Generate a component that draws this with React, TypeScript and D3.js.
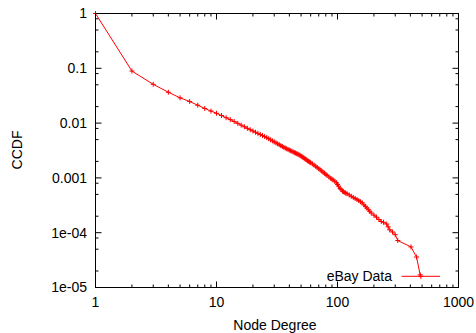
import * as d3 from 'd3'

// node degree / CCDF pairs
const degrees = [
  1, 2, 3, 4, 5, 6, 7, 8, 9, 10,
  11, 12, 13, 14, 15, 16, 17, 18, 19, 20,
  21, 22, 23, 24, 25, 26, 27, 28, 29, 30,
  31, 32, 33, 34, 35, 36, 37, 38, 39, 40,
  41, 42, 43, 44, 45, 46, 47, 48, 49, 50,
  51, 52, 53, 54, 55, 56, 57, 58, 59, 60,
  62, 64, 66, 68, 70, 72, 74, 76, 78, 80,
  82, 85, 88, 90, 92, 95, 98, 100, 102, 105,
  107, 110, 112, 115, 117, 120, 125, 130, 135, 140,
  145, 150, 155, 160, 165, 170, 175, 180, 185, 190,
  200, 210, 220, 230, 240, 255, 262, 270, 285, 300,
  315, 405, 450, 482,
]
const ccdf = [
  1, 0.089, 0.051, 0.0366, 0.0289, 0.0248, 0.0212, 0.0185, 0.0166, 0.0151,
  0.01374, 0.01256, 0.01158, 0.01069, 0.00988, 0.00918, 0.00857, 0.00803, 0.00757, 0.00718,
  0.00681, 0.00649, 0.00619, 0.00592, 0.00568, 0.00543, 0.00519, 0.00496, 0.00474, 0.00454,
  0.00436, 0.00419, 0.00404, 0.00388, 0.00375, 0.00361, 0.00351, 0.0034, 0.00331, 0.00322,
  0.00314, 0.00305, 0.00298, 0.0029, 0.00284, 0.00277, 0.00271, 0.00265, 0.00258, 0.0025,
  0.00243, 0.00236, 0.00229, 0.00222, 0.00216, 0.0021, 0.00204, 0.00199, 0.00194, 0.00189,
  0.0018, 0.00171, 0.00163, 0.00155, 0.00147, 0.0014, 0.00134, 0.00127, 0.00122, 0.00116,
  0.00111, 0.00104, 0.000984, 0.000946, 0.000916, 0.00087, 0.000813, 0.00076, 0.000708, 0.000646,
  0.000617, 0.000575, 0.00056, 0.00054, 0.000528, 0.000513, 0.000488, 0.000462, 0.000441, 0.000421,
  0.000403, 0.000385, 0.000367, 0.000351, 0.000324, 0.000302, 0.000282, 0.000263, 0.000245, 0.000229,
  0.000209, 0.000192, 0.000174, 0.00016, 0.000155, 0.000144, 0.000128, 0.000113, 0.000103, 0.000092,
  0.000072, 0.000055, 0.000036, 0.000017,
]
const xTickLabels = ['1', '10', '100', '1000']
const yTickLabels = ['1', '0.1', '0.01', '0.001', '1e-04', '1e-05']
const seriesName = 'eBay Data'

const W = 476
const H = 333
const m = { l: 95.5, r: 458.5, t: 13.5, b: 287.5 }
const FONT = "'Liberation Sans', Arial, Helvetica, sans-serif"
const RED = '#ff0000'

export default function App() {
  const x = d3.scaleLog().domain([1, 1000]).range([m.l, m.r])
  const y = d3.scaleLog().domain([1e-5, 1]).range([m.b, m.t])

  const pts: [number, number][] = degrees.map((d, i) => [x(d), y(ccdf[i])])
  const line = d3.line()(pts) || ''

  const xMajor = [1, 10, 100, 1000]
  const yMajor = [1, 0.1, 0.01, 0.001, 1e-4, 1e-5]
  const xMinor: number[] = []
  for (const dec of [1, 10, 100]) for (let k = 2; k <= 9; k++) xMinor.push(dec * k)
  const yMinor: number[] = []
  for (const dec of [1e-5, 1e-4, 1e-3, 1e-2, 1e-1]) for (const k of [2, 5, 8]) yMinor.push(dec * k)

  const cross = (cx: number, cy: number, key: string | number) => (
    <path key={key} d={`M${cx - 2.5},${cy}H${cx + 2.5}M${cx},${cy - 2.5}V${cy + 2.5}`} stroke={RED} strokeWidth={1} />
  )

  const legY = 276.3
  const legX0 = 401.7
  const legX1 = 440

  return (
    <svg width={W} height={H} style={{ position: 'absolute', left: 0, top: 0, background: '#fff' }} fontFamily={FONT}>
      <rect width={W} height={H} fill="#fff" />

      {/* ticks, mirrored on all four sides */}
      <g stroke="#000" strokeWidth={1}>
        {xMajor.map(v => (
          <g key={'xM' + v}>
            <line x1={x(v)} x2={x(v)} y1={m.b} y2={m.b - 6} />
            <line x1={x(v)} x2={x(v)} y1={m.t} y2={m.t + 6} />
          </g>
        ))}
        {xMinor.map(v => (
          <g key={'xm' + v}>
            <line x1={x(v)} x2={x(v)} y1={m.b} y2={m.b - 3} />
            <line x1={x(v)} x2={x(v)} y1={m.t} y2={m.t + 3} />
          </g>
        ))}
        {yMajor.map(v => (
          <g key={'yM' + v}>
            <line x1={m.l} x2={m.l + 6} y1={y(v)} y2={y(v)} />
            <line x1={m.r} x2={m.r - 6} y1={y(v)} y2={y(v)} />
          </g>
        ))}
        {yMinor.map(v => (
          <g key={'ym' + v}>
            <line x1={m.l} x2={m.l + 3} y1={y(v)} y2={y(v)} />
            <line x1={m.r} x2={m.r - 3} y1={y(v)} y2={y(v)} />
          </g>
        ))}
      </g>

      {/* tick labels */}
      <g fontSize={14} fill="#000">
        {xMajor.map((v, i) => (
          <text key={'xl' + v} x={x(v)} y={307} textAnchor="middle">{xTickLabels[i]}</text>
        ))}
        {yMajor.map((v, i) => (
          <text key={'yl' + v} x={87} y={y(v)} dy="0.35em" textAnchor="end">{yTickLabels[i]}</text>
        ))}
      </g>

      {/* data */}
      <path d={line} fill="none" stroke={RED} strokeWidth={1} />
      {pts.map((p, i) => cross(p[0], p[1], i))}

      {/* legend */}
      <text x={392} y={legY} dy="0.35em" textAnchor="end" fontSize={14} fill="#000">{seriesName}</text>
      <line x1={legX0} x2={legX1} y1={legY} y2={legY} stroke={RED} strokeWidth={1} />
      {cross((legX0 + legX1) / 2, legY, 'leg')}

      {/* frame */}
      <rect x={m.l} y={m.t} width={m.r - m.l} height={m.b - m.t} fill="none" stroke="#000" strokeWidth={1} />

      {/* axis titles */}
      <text x={275} y={330} textAnchor="middle" fontSize={14} fill="#000">Node Degree</text>
      <text transform="translate(22,150) rotate(-90)" textAnchor="middle" fontSize={14} fill="#000">CCDF</text>
    </svg>
  )
}
